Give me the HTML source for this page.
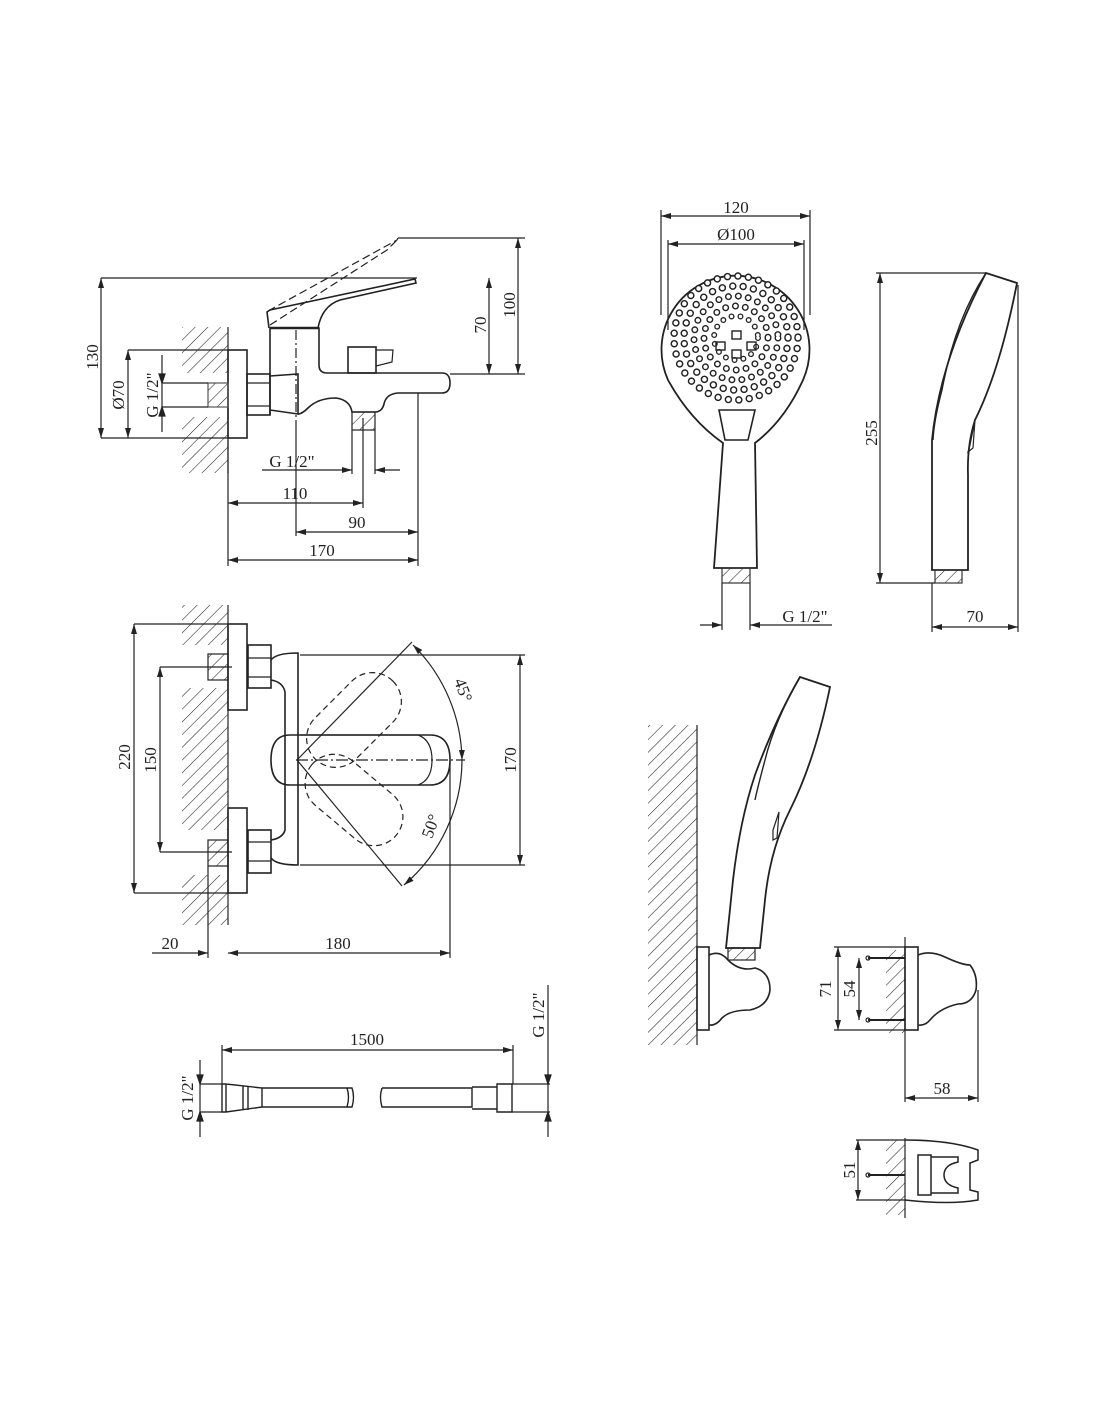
<!DOCTYPE html>
<html><head><meta charset="utf-8"><style>
html,body{margin:0;padding:0;background:#fff}
svg{display:block}
text{font-family:"Liberation Serif",serif;font-size:17px;fill:#222}
</style></head><body>
<svg width="1100" height="1422" viewBox="0 0 1100 1422" xmlns="http://www.w3.org/2000/svg">
<defs>
<pattern id="h" patternUnits="userSpaceOnUse" width="9" height="9" patternTransform="rotate(45)">
<line x1="0" y1="0" x2="0" y2="9" stroke="#222" stroke-width="1.1"/>
</pattern>
<marker id="a" viewBox="0 0 10 6" refX="10" refY="3" markerWidth="10" markerHeight="6" orient="auto-start-reverse" markerUnits="userSpaceOnUse"><path d="M0,0 L10,3 L0,6z" fill="#222"/></marker>
</defs>
<g fill="none" stroke="#222" stroke-width="1.2">

<!-- ========== Drawing 1 ========== -->
<rect x="182" y="327" width="46" height="46" fill="url(#h)" stroke="none"/>
<rect x="182" y="417" width="46" height="56" fill="url(#h)" stroke="none"/>
<line x1="228" y1="327" x2="228" y2="473"/>
<rect x="228" y="350" width="19" height="88" stroke-width="1.6"/>
<rect x="247" y="374" width="23" height="41" stroke-width="1.6"/>
<line x1="247" y1="383" x2="270" y2="383"/><line x1="247" y1="406" x2="270" y2="406"/>
<rect x="208" y="383" width="20" height="24" fill="url(#h)" stroke="#555"/>
<path d="M270,415 L270,328 L319,328 L319,365 Q319,373 327,373 L442,373 Q450,373 450,383 Q450,393 442,393 L398,393 Q386,394 384,404 Q382,412 375,412 L352,412 Q350,400 336,398 Q318,398 308,408 Q302,414 298,414" stroke-width="1.6"/>
<path d="M270,376 L298,374 L298,414 L270,410" stroke-width="1.6"/>
<rect x="348" y="347" width="28" height="26" stroke-width="1.6"/><path d="M376,350 L393,350 L392,362 L376,366"/>
<rect x="352" y="412" width="23" height="18" fill="url(#h)"/>
<line x1="270" y1="328" x2="319" y2="328" stroke-width="2.5"/>
<path d="M269,328 L267,312 L270,310 L415,279 L416,283 L340,300 Q322,306 318,328" stroke-width="1.6"/>
<path d="M268,311 L397,240 L398,238 M270,325 L387,250 L397,240" stroke-dasharray="8 4"/>
<line x1="296" y1="330" x2="296" y2="430" stroke-dasharray="10 3 2 3"/>
<line x1="101" y1="278" x2="417" y2="278"/>
<line x1="398" y1="238" x2="525" y2="238"/>
<line x1="450" y1="374" x2="525" y2="374"/>
<line x1="101" y1="278" x2="101" y2="438" marker-start="url(#a)" marker-end="url(#a)"/>
<line x1="101" y1="438" x2="228" y2="438"/>
<line x1="128" y1="350" x2="228" y2="350"/>
<line x1="128" y1="350" x2="128" y2="438" marker-start="url(#a)" marker-end="url(#a)"/>
<line x1="162" y1="383" x2="208" y2="383"/><line x1="162" y1="407" x2="208" y2="407"/>
<line x1="162" y1="355" x2="162" y2="432"/>
<path d="M162,383 l-3,-9 l6,0z M162,407 l-3,9 l6,0z" fill="#222"/>
<line x1="489" y1="278" x2="489" y2="374" marker-start="url(#a)" marker-end="url(#a)"/>
<line x1="518" y1="238" x2="518" y2="374" marker-start="url(#a)" marker-end="url(#a)"/>
<line x1="352" y1="430" x2="352" y2="474"/><line x1="375" y1="430" x2="375" y2="474"/>
<line x1="262" y1="470" x2="352" y2="470" marker-end="url(#a)"/><line x1="400" y1="470" x2="375" y2="470" marker-end="url(#a)"/>
<line x1="228" y1="440" x2="228" y2="566"/>
<line x1="363" y1="418" x2="363" y2="508"/>
<line x1="296" y1="430" x2="296" y2="536"/>
<line x1="418" y1="393" x2="418" y2="566"/>
<line x1="228" y1="503" x2="363" y2="503" marker-start="url(#a)" marker-end="url(#a)"/>
<line x1="296" y1="532" x2="418" y2="532" marker-start="url(#a)" marker-end="url(#a)"/>
<line x1="228" y1="560" x2="418" y2="560" marker-start="url(#a)" marker-end="url(#a)"/>

<!-- ========== Drawing 2 ========== -->
<rect x="182" y="605" width="46" height="40" fill="url(#h)" stroke="none"/>
<rect x="182" y="688" width="46" height="142" fill="url(#h)" stroke="none"/>
<rect x="182" y="875" width="46" height="50" fill="url(#h)" stroke="none"/>
<line x1="228" y1="605" x2="228" y2="925"/>
<rect x="228" y="624" width="19" height="86" stroke-width="1.6"/>
<rect x="228" y="808" width="19" height="85" stroke-width="1.6"/>
<rect x="248" y="645" width="23" height="43" stroke-width="1.6"/>
<rect x="248" y="830" width="23" height="43" stroke-width="1.6"/>
<line x1="248" y1="658" x2="271" y2="658"/><line x1="248" y1="677" x2="271" y2="677"/>
<line x1="248" y1="842" x2="271" y2="842"/><line x1="248" y1="861" x2="271" y2="861"/>
<rect x="208" y="654" width="20" height="26" fill="url(#h)"/>
<rect x="208" y="840" width="20" height="26" fill="url(#h)"/>
<path d="M271,660 Q276,653 298,653 L298,865 Q276,865 271,858" stroke-width="1.6"/>
<path d="M271,680 Q283,682 285,692 L285,830 Q283,838 271,840" stroke-width="1.6"/>
<path d="M290,735 L430,735 Q450,735 450,760 Q450,785 430,785 L290,785 Q271,785 271,760 Q271,735 290,735z" stroke-width="1.6"/>
<path d="M300,735 L418,735 Q432,740 432,760 Q432,780 418,785" />
<line x1="296" y1="760" x2="465" y2="760" stroke-dasharray="12 3 2 3"/>
<rect x="325" y="665" width="58" height="110" rx="29" transform="rotate(45 354 720)" stroke-dasharray="6 4"/>
<rect x="325" y="745" width="58" height="110" rx="29" transform="rotate(-50 354 800)" stroke-dasharray="6 4"/>
<line x1="297" y1="760" x2="412" y2="642"/>
<line x1="297" y1="760" x2="402" y2="886"/>
<path d="M413,645 A165,165 0 0,1 462,760" marker-start="url(#a)" marker-end="url(#a)"/>
<path d="M462,760 A165,165 0 0,1 404,885" marker-end="url(#a)"/>
<line x1="300" y1="655" x2="525" y2="655"/><line x1="300" y1="865" x2="525" y2="865"/>
<line x1="520" y1="655" x2="520" y2="865" marker-start="url(#a)" marker-end="url(#a)"/>
<line x1="134" y1="624" x2="228" y2="624"/><line x1="134" y1="893" x2="228" y2="893"/>
<line x1="134" y1="624" x2="134" y2="893" marker-start="url(#a)" marker-end="url(#a)"/>
<line x1="160" y1="667" x2="232" y2="667"/><line x1="160" y1="852" x2="232" y2="852"/>
<line x1="160" y1="667" x2="160" y2="852" marker-start="url(#a)" marker-end="url(#a)"/>
<line x1="208" y1="866" x2="208" y2="958"/><line x1="450" y1="760" x2="450" y2="958"/>
<line x1="152" y1="953" x2="208" y2="953" marker-end="url(#a)"/>
<line x1="228" y1="953" x2="450" y2="953" marker-start="url(#a)" marker-end="url(#a)"/>

<!-- ========== Hose ========== -->
<line x1="222" y1="1045" x2="222" y2="1084"/><line x1="513" y1="1045" x2="513" y2="1084"/>
<line x1="222" y1="1050" x2="513" y2="1050" marker-start="url(#a)" marker-end="url(#a)"/>
<path d="M222,1084 L226,1084 L226,1112 L222,1112z M226,1084 L262,1088 L262,1107 L226,1112 M243,1086 L243,1110 M248,1086 L248,1110" stroke-width="1.4"/>
<path d="M262,1088 L352,1088 Q355,1097 352,1107 L262,1107 M347,1088 Q350,1097 347,1107" stroke-width="1.4"/>
<path d="M382,1088 L472,1088 L472,1107 L382,1107 Q379,1097 382,1088 M472,1087 L497,1087 L497,1109 L472,1109 M497,1084 L512,1084 L512,1112 L497,1112z" stroke-width="1.4"/>
<line x1="200" y1="1084" x2="222" y2="1084"/><line x1="200" y1="1112" x2="222" y2="1112"/>
<line x1="200" y1="1060" x2="200" y2="1137"/>
<path d="M200,1084 l-3,-9 l6,0z M200,1112 l-3,9 l6,0z" fill="#222"/>
<line x1="512" y1="1084" x2="550" y2="1084"/><line x1="512" y1="1112" x2="550" y2="1112"/>
<line x1="548" y1="985" x2="548" y2="1137"/>
<path d="M548,1084 l-3,-9 l6,0z M548,1112 l-3,9 l6,0z" fill="#222"/>

<!-- ========== Shower head front ========== -->
<path d="M723,443 Q690,420 668,380 A74,74 0 1,1 803,380 Q785,420 755,443 L757,568 L714,568z" stroke-width="1.8"/>
<path d="M719,410 L755,410 L748,440 L725,440z" stroke-width="1.6"/>
<rect x="722" y="568" width="28" height="15" fill="url(#h)" stroke="#333"/>
<g stroke-linecap="round">
<circle cx="736" cy="338" r="22" stroke="#222" stroke-width="6" stroke-dasharray="0 9"/>
<circle cx="736" cy="338" r="22" stroke="#fff" stroke-width="3.4" stroke-dasharray="0 9"/>
<circle cx="736" cy="338" r="32" stroke="#222" stroke-width="7" stroke-dasharray="0 10"/>
<circle cx="736" cy="338" r="32" stroke="#fff" stroke-width="4.2" stroke-dasharray="0 10"/>
<circle cx="736" cy="338" r="42" stroke="#222" stroke-width="7" stroke-dasharray="0 10"/>
<circle cx="736" cy="338" r="42" stroke="#fff" stroke-width="4.2" stroke-dasharray="0 10"/>
<circle cx="736" cy="338" r="52" stroke="#222" stroke-width="7.5" stroke-dasharray="0 10.5"/>
<circle cx="736" cy="338" r="52" stroke="#fff" stroke-width="4.6" stroke-dasharray="0 10.5"/>
<circle cx="736" cy="338" r="62" stroke="#222" stroke-width="7.5" stroke-dasharray="0 10.5"/>
<circle cx="736" cy="338" r="62" stroke="#fff" stroke-width="4.6" stroke-dasharray="0 10.5"/>
</g>
<rect x="716" y="342" width="9" height="8" stroke-width="1.4"/><rect x="747" y="342" width="9" height="8" stroke-width="1.4"/>
<rect x="732" y="331" width="9" height="8" stroke-width="1.4"/><rect x="732" y="350" width="9" height="8" stroke-width="1.4"/>
<line x1="661" y1="210" x2="661" y2="315"/><line x1="810" y1="210" x2="810" y2="315"/>
<line x1="661" y1="216" x2="810" y2="216" marker-start="url(#a)" marker-end="url(#a)"/>
<line x1="668" y1="240" x2="668" y2="330"/><line x1="804" y1="240" x2="804" y2="330"/>
<line x1="668" y1="244" x2="804" y2="244" marker-start="url(#a)" marker-end="url(#a)"/>
<line x1="722" y1="583" x2="722" y2="630"/><line x1="750" y1="583" x2="750" y2="630"/>
<line x1="700" y1="625" x2="722" y2="625" marker-end="url(#a)"/>
<line x1="832" y1="625" x2="750" y2="625" marker-end="url(#a)"/>

<!-- ========== Shower side ========== -->
<path d="M986,273 L1017,283 Q1000,370 975,420 Q967,445 968,475 L968,570 L932,570 L932,440 Q940,360 986,273z" stroke-width="1.8"/>
<path d="M986,273 Q955,320 942,390 Q934,420 933,440" stroke-width="1.4"/>
<path d="M975,420 L970,445 L968,452 L973,448z" stroke-width="1.2"/>
<rect x="935" y="570" width="27" height="13" fill="url(#h)" stroke="#333"/>
<line x1="876" y1="273" x2="986" y2="273"/><line x1="876" y1="583" x2="935" y2="583"/>
<line x1="880" y1="273" x2="880" y2="583" marker-start="url(#a)" marker-end="url(#a)"/>
<line x1="932" y1="583" x2="932" y2="632"/><line x1="1018" y1="285" x2="1018" y2="632"/>
<line x1="932" y1="627" x2="1018" y2="627" marker-start="url(#a)" marker-end="url(#a)"/>

<!-- ========== Wall mounted shower ========== -->
<rect x="648" y="725" width="49" height="320" fill="url(#h)" stroke="none"/>
<line x1="697" y1="725" x2="697" y2="1045"/>
<rect x="697" y="947" width="12" height="83" stroke-width="1.6"/>
<path d="M709,955 Q720,950 728,960 Q740,972 755,968 Q770,972 770,990 Q768,1006 750,1010 Q730,1010 722,1018 Q716,1026 709,1025" stroke-width="1.6"/>
<path d="M800,677 L830,687 Q815,760 790,810 Q770,850 765,900 L760,948 L726,948 L733,880 Q740,820 755,775 Q775,720 800,677z" stroke-width="1.8"/>
<path d="M800,677 Q775,720 765,760 Q757,790 755,800" stroke-width="1.4"/>
<path d="M779,812 L773,830 L773,840 L777,838z"/>
<rect x="728" y="948" width="27" height="12" fill="url(#h)"/>

<rect x="886" y="950" width="19" height="83" fill="url(#h)" stroke="none"/>
<line x1="905" y1="937" x2="905" y2="1102"/>
<rect x="905" y="947" width="13" height="83" stroke-width="1.6"/>
<path d="M918,955 Q930,950 945,957 Q962,965 970,965 Q978,975 976,990 Q972,1004 958,1004 Q940,1008 930,1020 Q925,1026 918,1025" stroke-width="1.6"/>
<line x1="868" y1="958" x2="905" y2="958" stroke-width="2"/><line x1="868" y1="1020" x2="905" y2="1020" stroke-width="2"/>
<circle cx="868" cy="958" r="2"/><circle cx="868" cy="1020" r="2"/>
<line x1="834" y1="947" x2="905" y2="947"/><line x1="834" y1="1030" x2="905" y2="1030"/>
<line x1="838" y1="947" x2="838" y2="1030" marker-start="url(#a)" marker-end="url(#a)"/>
<line x1="859" y1="958" x2="859" y2="1020" marker-start="url(#a)" marker-end="url(#a)"/>
<line x1="978" y1="990" x2="978" y2="1102"/>
<line x1="905" y1="1098" x2="978" y2="1098" marker-start="url(#a)" marker-end="url(#a)"/>

<rect x="886" y="1140" width="19" height="75" fill="url(#h)" stroke="none"/>
<line x1="905" y1="1138" x2="905" y2="1218"/>
<path d="M905,1140 Q950,1140 978,1150 L978,1160 L970,1163 L970,1190 L978,1192 L978,1200 Q950,1205 905,1200" stroke-width="1.5"/>
<rect x="918" y="1155" width="13" height="40" stroke-width="1.5"/>
<path d="M931,1157 L958,1157 L958,1162 Q944,1165 944,1175 Q944,1185 958,1188 L958,1193 L931,1193" stroke-width="1.5"/>
<line x1="868" y1="1175" x2="905" y2="1175" stroke-width="2"/><circle cx="868" cy="1175" r="2"/>
<line x1="856" y1="1140" x2="905" y2="1140"/><line x1="856" y1="1200" x2="905" y2="1200"/>
<line x1="858" y1="1140" x2="858" y2="1200" marker-start="url(#a)" marker-end="url(#a)"/>
</g>

<g>
<text transform="translate(98,357) rotate(-90)" text-anchor="middle">130</text>
<text transform="translate(124,395) rotate(-90)" text-anchor="middle">Ø70</text>
<text transform="translate(158,395) rotate(-90)" text-anchor="middle">G 1/2"</text>
<text transform="translate(486,325) rotate(-90)" text-anchor="middle">70</text>
<text transform="translate(515,305) rotate(-90)" text-anchor="middle">100</text>
<text x="292" y="467" text-anchor="middle">G 1/2"</text>
<text x="295" y="499" text-anchor="middle">110</text>
<text x="357" y="528" text-anchor="middle">90</text>
<text x="322" y="556" text-anchor="middle">170</text>
<text transform="translate(130,757) rotate(-90)" text-anchor="middle">220</text>
<text transform="translate(156,760) rotate(-90)" text-anchor="middle">150</text>
<text transform="translate(516,760) rotate(-90)" text-anchor="middle">170</text>
<text transform="translate(458,692) rotate(70)" text-anchor="middle">45°</text>
<text transform="translate(436,828) rotate(-70)" text-anchor="middle">50°</text>
<text x="170" y="949" text-anchor="middle">20</text>
<text x="338" y="949" text-anchor="middle">180</text>
<text x="367" y="1045" text-anchor="middle">1500</text>
<text transform="translate(193,1098) rotate(-90)" text-anchor="middle">G 1/2"</text>
<text transform="translate(544,1015) rotate(-90)" text-anchor="middle">G 1/2"</text>
<text x="736" y="213" text-anchor="middle">120</text>
<text x="736" y="240" text-anchor="middle">Ø100</text>
<text x="805" y="622" text-anchor="middle">G 1/2"</text>
<text transform="translate(877,433) rotate(-90)" text-anchor="middle">255</text>
<text x="975" y="622" text-anchor="middle">70</text>
<text transform="translate(831,989) rotate(-90)" text-anchor="middle">71</text>
<text transform="translate(855,989) rotate(-90)" text-anchor="middle">54</text>
<text x="942" y="1094" text-anchor="middle">58</text>
<text transform="translate(855,1170) rotate(-90)" text-anchor="middle">51</text>
</g>
</svg>
</body></html>
